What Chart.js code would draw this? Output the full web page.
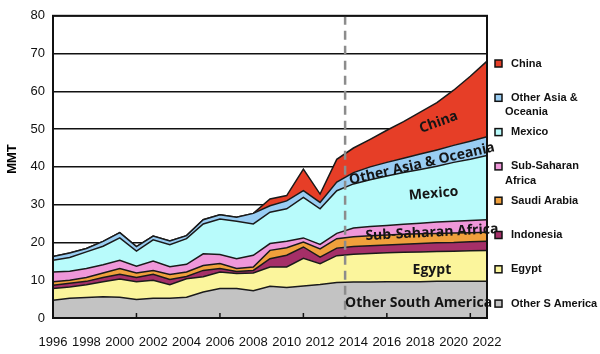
<!DOCTYPE html>
<html>
<head>
<meta charset="utf-8">
<script src="https://cdn.jsdelivr.net/npm/chart.js@4"></script>
<style>
  html, body { margin: 0; padding: 0; background: #fff; }
  #wrap { width: 600px; height: 354px; }
</style>
</head>
<body>
<div id="wrap"><canvas id="chart" width="600" height="354"></canvas></div>
<script>
// years on the x axis
const years = [1996, 1997, 1998, 1999, 2000, 2001, 2002, 2003, 2004, 2005, 2006, 2007, 2008,
               2009, 2010, 2011, 2012, 2013, 2014, 2015, 2016, 2017, 2018, 2019, 2020, 2021, 2022];

// stacked series, bottom to top (MMT)
const otherSAmerica = [4.7, 5.2, 5.4, 5.6, 5.5, 4.9, 5.2, 5.2, 5.5, 6.9, 7.8, 7.8, 7.2,
                       8.4, 8.1, 8.5, 8.9, 9.4, 9.5, 9.5, 9.6, 9.6, 9.6, 9.7, 9.7, 9.7, 9.7];
const egypt = [3.1, 3.0, 3.4, 4.0, 4.8, 4.7, 4.8, 3.6, 4.9, 4.0, 4.4, 4.0, 4.7,
               5.1, 5.4, 7.3, 5.5, 7.1, 7.4, 7.6, 7.7, 7.8, 7.9, 7.9, 8.0, 8.1, 8.2];
const indonesia = [0.9, 1.0, 0.9, 1.1, 1.3, 1.1, 1.6, 1.4, 0.6, 1.7, 0.9, 0.5, 0.7,
                   2.2, 3.1, 3.0, 1.7, 2.0, 2.0, 2.0, 2.0, 2.1, 2.2, 2.3, 2.3, 2.4, 2.4];
const saudiArabia = [0.9, 0.8, 1.0, 1.2, 1.5, 1.2, 1.0, 1.3, 1.2, 1.3, 1.3, 0.8, 0.9,
                     2.2, 2.0, 1.3, 2.2, 2.5, 2.6, 2.7, 2.7, 2.7, 2.6, 2.5, 2.5, 2.4, 2.4];
const subSaharan = [2.6, 2.4, 2.4, 2.2, 2.2, 1.8, 2.5, 2.1, 2.0, 3.1, 2.4, 2.6, 3.1,
                    1.8, 1.7, 1.1, 1.2, 1.4, 2.3, 2.4, 2.5, 2.6, 2.8, 3.0, 3.1, 3.2, 3.3];
const mexico = [3.1, 3.6, 4.4, 4.9, 5.9, 4.0, 5.6, 5.8, 6.8, 7.9, 9.4, 9.9, 8.3,
                8.3, 8.6, 10.7, 9.4, 11.3, 11.7, 12.4, 13.1, 13.7, 14.2, 14.8, 15.6, 16.2, 17.0];
const otherAsia = [1.0, 1.2, 0.9, 1.3, 1.4, 1.2, 1.0, 1.0, 0.8, 1.1, 1.1, 1.1, 2.8,
                   1.7, 2.1, 1.8, 1.7, 2.3, 3.0, 3.4, 3.6, 3.8, 4.1, 4.3, 4.5, 4.8, 5.0];
const china = [0, 0, 0, 0, 0, 0, 0, 0, 0, 0, 0, 0, 0,
               1.8, 1.4, 5.7, 2.2, 6.0, 6.5, 7.3, 8.5, 9.7, 11.1, 12.5, 14.6, 17.2, 20.0];

const seriesNames = ['Other S America', 'Egypt', 'Indonesia', 'Saudi Arabia',
                     'Sub-Saharan Africa', 'Mexico', 'Other Asia & Oceania', 'China'];
const seriesData = [otherSAmerica, egypt, indonesia, saudiArabia, subSaharan, mexico, otherAsia, china];
const seriesColors = ['#c3c3c3', '#fbf59c', '#a52f68', '#f0a03c', '#ef97d9', '#b8fbfb', '#99cdf3', '#e63e27'];

// legend text, top to bottom
const legendLines = [['China'], ['Other Asia &', 'Oceania'], ['Mexico'], ['Sub-Saharan', 'Africa'],
                     ['Saudi Arabia'], ['Indonesia'], ['Egypt'], ['Other S America']];

const yTicks = [0, 10, 20, 30, 40, 50, 60, 70, 80];
const projectionStart = 2013.5;

// labels drawn inside the areas: [text, year, value, angle deg]
const areaLabels = [
  ['China', 2019.1, 51.8, -20],
  ['Other Asia & Oceania', 2018.1, 40.8, -13],
  ['Mexico', 2018.8, 32.9, -5],
  ['Sub-Saharan Africa', 2018.7, 22.6, -3],
  ['Egypt', 2018.7, 12.6, 0],
  ['Other South America', 2017.9, 3.9, 0]
];

const datasets = seriesData.map((vals, i) => ({
  label: seriesNames[i],
  data: vals.map((v, j) => ({ x: years[j], y: v })),
  backgroundColor: seriesColors[i],
  borderColor: '#1a1a1a',
  borderWidth: 1.5,
  fill: i === 0 ? 'origin' : '-1',
  pointRadius: 0,
  tension: 0
}));

function dashedLine(chart) {
  const { ctx, chartArea: a, scales: { x } } = chart;
  const px = x.getPixelForValue(projectionStart);
  ctx.save();
  ctx.strokeStyle = '#8c8c8c';
  ctx.lineWidth = 2.5;
  ctx.setLineDash([9, 6]);
  ctx.beginPath();
  ctx.moveTo(px, a.top);
  ctx.lineTo(px, a.bottom);
  ctx.stroke();
  ctx.restore();
}

const extras = {
  id: 'extras',
  afterDatasetsDraw(chart) {
    const { ctx, chartArea: a, scales: { x, y } } = chart;
    dashedLine(chart);
    ctx.save();

    // frame
    ctx.strokeStyle = '#111';
    ctx.lineWidth = 2;
    ctx.strokeRect(a.left, a.top, a.right - a.left, a.bottom - a.top);

    // inward tick marks
    ctx.lineWidth = 1.5;
    [2001, 2006, 2011, 2016, 2021].forEach(t => {
      const tx = x.getPixelForValue(t);
      ctx.beginPath();
      ctx.moveTo(tx, a.bottom);
      ctx.lineTo(tx, a.bottom - 5);
      ctx.stroke();
    });

    // area labels
    ctx.fillStyle = '#151515';
    ctx.textAlign = 'center';
    ctx.textBaseline = 'middle';
    areaLabels.forEach(([t, xv, yv, ang]) => {
      ctx.save();
      ctx.translate(x.getPixelForValue(xv), y.getPixelForValue(yv));
      ctx.rotate(ang * Math.PI / 180);
      ctx.font = 'bold 14px "Open Sans"';
      ctx.fillText(t, 0, 0);
      ctx.restore();
    });

    // y title
    ctx.save();
    ctx.translate(12, 159);
    ctx.rotate(-Math.PI / 2);
    ctx.font = 'bold 13px "Liberation Sans"';
    ctx.fillStyle = '#000';
    ctx.fillText('MMT', 0, 0);
    ctx.restore();

    // legend on the right
    ctx.textAlign = 'left';
    ctx.font = 'bold 11px "Liberation Sans"';
    legendLines.forEach((lines, k) => {
      const cy = 63.5 + k * 34.3;
      const col = seriesColors[seriesColors.length - 1 - k];
      ctx.fillStyle = col;
      ctx.fillRect(495, cy - 3.5, 7, 7);
      ctx.strokeStyle = '#111';
      ctx.lineWidth = 1.5;
      ctx.strokeRect(495, cy - 3.5, 7, 7);
      ctx.fillStyle = '#111';
      ctx.fillText(lines[0], 511, cy);
      if (lines[1]) ctx.fillText(lines[1], 505, cy + 14.5);
    });
    ctx.restore();
  }
};

new Chart(document.getElementById('chart'), {
  type: 'line',
  data: { datasets },
  options: {
    responsive: false,
    animation: false,
    layout: { padding: { left: 0, top: 14, right: 113, bottom: 0 } },
    plugins: { legend: { display: false }, tooltip: { enabled: false } },
    scales: {
      x: {
        type: 'linear',
        min: 1996,
        max: 2022,
        afterFit: s => { s.height = 36; },
        afterBuildTicks: s => { s.ticks = years.filter(v => v % 2 === 0).map(v => ({ value: v })); },
        grid: { display: false },
        border: { display: false },
        ticks: {
          callback: v => String(v),
          font: { family: 'Liberation Sans', size: 13 },
          color: '#111',
          maxRotation: 0,
          autoSkip: false,
          padding: 9
        }
      },
      y: {
        stacked: true,
        min: 0,
        max: 80,
        afterFit: s => { s.width = 53; },
        afterBuildTicks: s => { s.ticks = yTicks.map(v => ({ value: v })); },
        grid: { color: '#111', lineWidth: 1.5, drawTicks: false },
        border: { display: false },
        ticks: {
          font: { family: 'Liberation Sans', size: 13 },
          color: '#111',
          padding: 8
        }
      }
    }
  },
  plugins: [extras]
});
</script>
</body>
</html>
